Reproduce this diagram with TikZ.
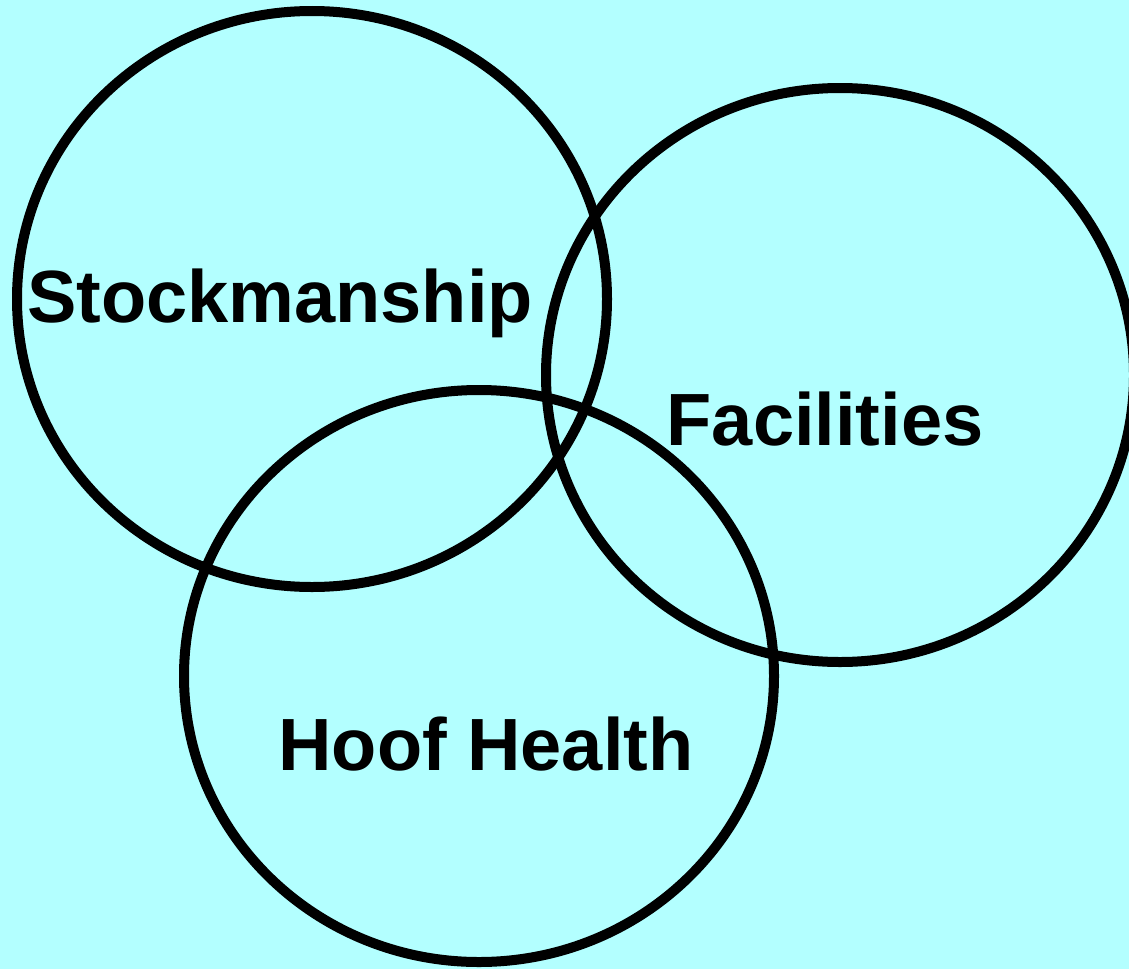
\documentclass[tikz,border=0pt]{standalone}
\usepackage{fontspec}
\setmainfont{Liberation Sans}
\definecolor{paleaqua}{RGB}{179,255,255}
\tikzset{
  ring/.style={line width=5pt, black},
  tag/.style={anchor=base, inner sep=0pt, font=\fontsize{37}{44}\selectfont\bfseries}
}
\begin{document}
\begin{tikzpicture}[x=0.5pt, y=-0.5pt]
	\useasboundingbox (0, 0) rectangle (1129, 969);
	\clip (0, 0) rectangle (1129, 969);
	\fill[paleaqua] (0, 0) rectangle (1129, 969);

	% the three overlapping rings
	\draw[ring] (312, 299) ellipse [x radius=147.5pt, y radius=144pt];
	\draw[ring] (840, 375) ellipse [x radius=147pt, y radius=143.5pt];
	\draw[ring] (479, 676) ellipse [x radius=147.5pt, y radius=143pt];

	\node[tag] (stock) at (280, 322) {Stockmanship};
	\node[tag] (facil) at (825, 445) {Facilities};
	\node[tag] (hoof) at (486, 770) {Hoof Health};
\end{tikzpicture}
\end{document}
